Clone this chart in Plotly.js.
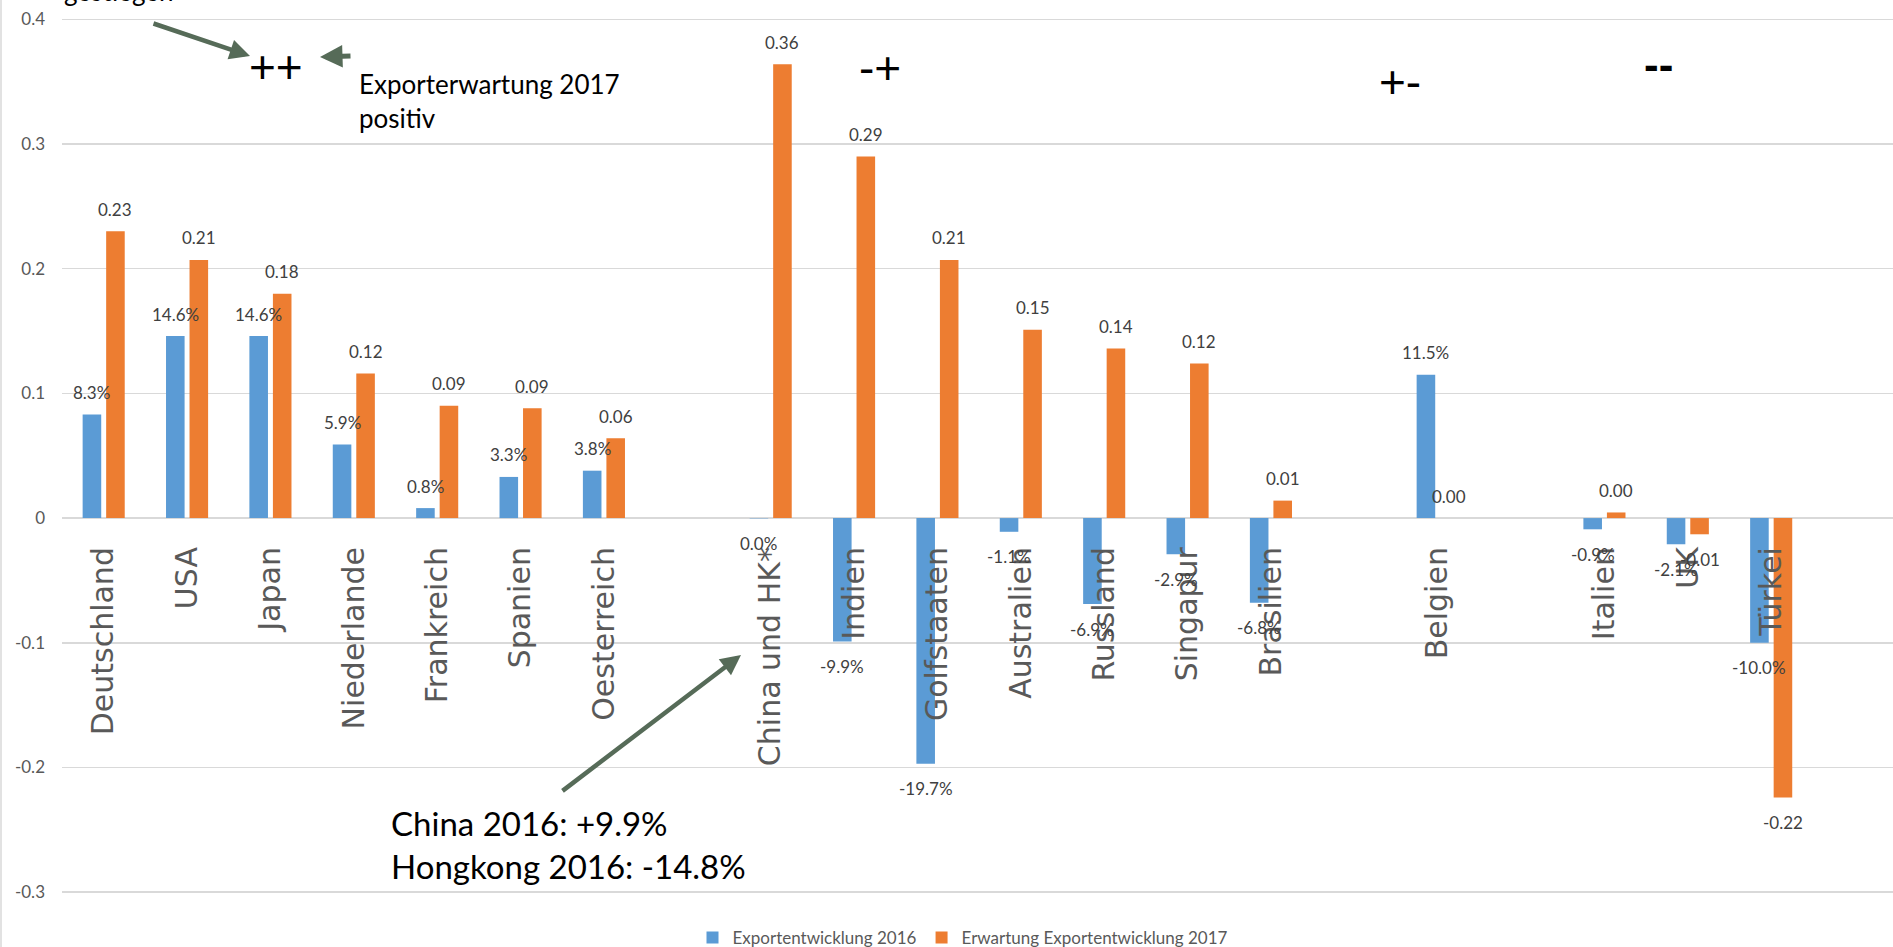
<!DOCTYPE html>
<html>
<head>
<meta charset="utf-8">
<script src="https://cdn.plot.ly/plotly-3.0.1.min.js"></script>
<style>
  html, body { margin: 0; padding: 0; background: #ffffff; }
  #chart { width: 1893px; height: 947px; }
</style>
</head>
<body>
<div id="chart"></div>
<script>
// ---------------- data ----------------
const countries = ["Deutschland", "USA", "Japan", "Niederlande", "Frankreich", "Spanien", "Oesterreich",
  "China und HK*", "Indien", "Golfstaaten", "Australien", "Russland", "Singapur", "Brasilien",
  "Belgien", "Italien", "UK", "Türkei"];
const export2016 = [0.083, 0.146, 0.146, 0.059, 0.008, 0.033, 0.038,
  -0.0003, -0.099, -0.197, -0.011, -0.069, -0.029, -0.068,
  0.115, -0.009, -0.021, -0.100];
const expect2017 = [0.230, 0.207, 0.180, 0.116, 0.090, 0.088, 0.064,
  0.364, 0.290, 0.207, 0.151, 0.136, 0.124, 0.014,
  0.000, 0.0045, -0.013, -0.224];
const seriesNames = ["Exportentwicklung 2016", "Erwartung Exportentwicklung 2017"];
const yTickVals = [-0.3, -0.2, -0.1, 0, 0.1, 0.2, 0.3, 0.4];
const yTickText = ["-0.3", "-0.2", "-0.1", "0", "0.1", "0.2", "0.3", "0.4"];

// empty category slots after these groups
const gapAfter = ["Oesterreich", "Brasilien", "Belgien"];

// ---------------- layout helpers ----------------
const W = 1893, H = 947, ML = 62;
const PW = W - ML;
const px = x => (x - ML) / PW;
const py = y => 1 - y / H;

const slots = [];
let pos = 0;
countries.forEach(c => { slots.push(pos); pos += 1 + (gapAfter.includes(c) ? 1 : 0); });

const yRange = [-0.344, 0.4155];
const zeroPos = (0 - yRange[0]) / (yRange[1] - yRange[0]);

const BLUE = "#5b9bd5", ORANGE = "#ed7d31";
const CAL = "Lato, 'Liberation Sans', Arial, sans-serif";

const pct = v => { let s = (v * 100).toFixed(1); if (s === "-0.0") s = "0.0"; return s + "%"; };
const dec = v => { let s = v.toFixed(2); if (s === "-0.00") s = "0.00"; return s; };

const traces = [
  { type: "bar", name: seriesNames[0], x: slots, y: export2016, marker: { color: BLUE }, hoverinfo: "none" },
  { type: "bar", name: seriesNames[1], x: slots, y: expect2017, marker: { color: ORANGE }, hoverinfo: "none" }
];

const annotations = [];
const off = 11.75;
export2016.forEach((v, i) => annotations.push({
  x: slots[i], y: v, xref: "x", yref: "y", text: pct(v), showarrow: false,
  xshift: -off, yshift: v >= 0 ? 22 : -25, font: { family: CAL, size: 17, color: "#404040" }
}));
expect2017.forEach((v, i) => annotations.push({
  x: slots[i], y: v, xref: "x", yref: "y", text: dec(v), showarrow: false,
  xshift: off, yshift: v >= 0 ? 22 : -25, font: { family: CAL, size: 17, color: "#404040" }
}));

const ARROW = "#566b58";
// text annotations
annotations.push(
  { xref: "paper", yref: "paper", x: px(62), y: py(9), xanchor: "left", yanchor: "bottom",
    text: "gestiegen", showarrow: false, font: { family: CAL, size: 26, color: "#000" } },
  { xref: "paper", yref: "paper", x: px(276), y: py(67), xanchor: "center", yanchor: "middle",
    text: "++", showarrow: false, font: { family: "'Liberation Sans', Arial", size: 46, color: "#000" } },
  { xref: "paper", yref: "paper", x: px(880), y: py(68), xanchor: "center", yanchor: "middle",
    text: "-+", showarrow: false, font: { family: "'Liberation Sans', Arial", size: 46, color: "#000" } },
  { xref: "paper", yref: "paper", x: px(1400), y: py(82), xanchor: "center", yanchor: "middle",
    text: "+-", showarrow: false, font: { family: "'Liberation Sans', Arial", size: 46, color: "#000" } },
  { xref: "paper", yref: "paper", x: px(1658), y: py(64), xanchor: "center", yanchor: "middle",
    text: "<b>--</b>", showarrow: false, font: { family: "'Liberation Sans', Arial", size: 44, color: "#000" } },
  { xref: "paper", yref: "paper", x: px(357), y: py(101.5), xanchor: "left", yanchor: "middle", align: "left",
    text: "Exporterwartung 2017<br>positiv", showarrow: false, font: { family: CAL, size: 26, color: "#000" } },
  { xref: "paper", yref: "paper", x: px(389), y: py(844), xanchor: "left", yanchor: "middle", align: "left",
    text: "China 2016: +9.9%<br>Hongkong 2016: -14.8%", showarrow: false, font: { family: CAL, size: 33, color: "#000" } },
  // arrows
  { xref: "paper", yref: "paper", x: px(250), y: py(56), ax: -98, ay: -33, text: "", showarrow: true,
    arrowhead: 2, arrowsize: 0.9, arrowwidth: 4.5, arrowcolor: ARROW, standoff: 0 },
  { xref: "paper", yref: "paper", x: px(320), y: py(57), ax: 32, ay: -1, text: "", showarrow: true,
    arrowhead: 2, arrowsize: 0.9, arrowwidth: 5, arrowcolor: ARROW, standoff: 0 },
  { xref: "paper", yref: "paper", x: px(741), y: py(655), ax: -180, ay: 137, text: "", showarrow: true,
    arrowhead: 2, arrowsize: 0.9, arrowwidth: 4.5, arrowcolor: ARROW, standoff: 0 }
);

const layout = {
  width: W, height: H,
  margin: { l: ML, r: 0, t: 0, b: 0, pad: 0, autoexpand: false },
  paper_bgcolor: "#ffffff", plot_bgcolor: "#ffffff",
  barmode: "group", bargap: 0.436, bargroupgap: 0.21,
  showlegend: true,
  legend: {
    orientation: "h", xref: "paper", yref: "paper", x: px(963), xanchor: "center",
    y: py(938), yanchor: "middle", bgcolor: "rgba(0,0,0,0)",
    font: { family: CAL, size: 17, color: "#595959" }, itemwidth: 30
  },
  xaxis: {
    type: "linear", range: [-0.5, -0.5 + PW / 83.375],
    anchor: "free", position: zeroPos,
    tickvals: slots, ticktext: countries, tickangle: -90,
    tickfont: { family: "'DejaVu Sans', Verdana, sans-serif", size: 30, color: "#595959" },
    showgrid: false, zeroline: false, showline: false, ticks: "", ticklabelstandoff: 22
  },
  yaxis: {
    range: yRange, tickvals: yTickVals, ticktext: yTickText,
    gridcolor: "#d9d9d9", gridwidth: 1.5, zeroline: false, showline: false,
    tickfont: { family: CAL, size: 17, color: "#595959" }, ticks: "", ticklabelstandoff: 16
  },
  shapes: [
    { type: "line", xref: "paper", yref: "paper", x0: px(1), x1: px(1), y0: 0, y1: 1,
      line: { color: "#d9d9d9", width: 1.5 } }
  ],
  annotations: annotations
};

Plotly.newPlot("chart", traces, layout, { displayModeBar: false, staticPlot: true });
</script>
</body>
</html>
